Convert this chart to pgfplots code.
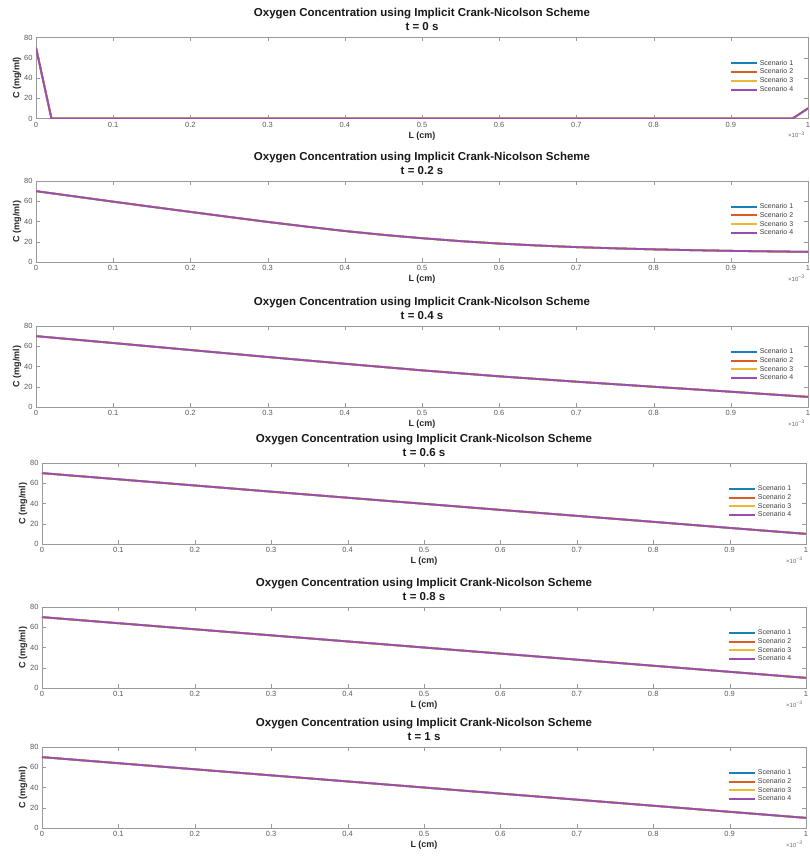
\documentclass[border=0pt]{standalone}
\usepackage{fontspec}
\setmainfont{Liberation Sans}
\usepackage{pgfplots}
\usepackage{pgfplotstable}
\pgfplotsset{compat=1.18}

% line colours of the four scenarios
\definecolor{scA}{rgb}{0.10,0.50,0.72}
\definecolor{scB}{rgb}{0.85,0.37,0.15}
\definecolor{scC}{rgb}{0.93,0.72,0.20}
\definecolor{scD}{rgb}{0.60,0.30,0.70}

% concentration profiles C(x) in mg/ml, x in cm
\pgfplotstableread{
x c
0 70
2e-5 0
9.8e-4 0
1e-3 10
}\tzero
\pgfplotstableread{
x c
0 70
0.5e-4 64.8
1.0e-4 59.6
1.5e-4 54.5
2.0e-4 49.5
2.5e-4 44.5
3.0e-4 39.6
3.5e-4 35.0
4.0e-4 30.6
4.5e-4 26.8
5.0e-4 23.5
5.5e-4 20.6
6.0e-4 18.2
6.5e-4 16.3
7.0e-4 14.7
7.5e-4 13.5
8.0e-4 12.5
8.5e-4 11.7
9.0e-4 11.0
9.5e-4 10.5
1.0e-3 10.0
}\ttwo
\pgfplotstableread{
x c
0 70
1e-4 63.2
2e-4 56.3
3e-4 49.4
4e-4 42.7
5e-4 36.2
6e-4 30.3
7e-4 25.0
8e-4 20.0
9e-4 15.1
1e-3 10.0
}\tfour
\pgfplotstableread{
x c
0 70
1e-4 63.9
2e-4 57.8
3e-4 51.7
4e-4 45.7
5e-4 39.7
6e-4 33.7
7e-4 27.8
8e-4 21.9
9e-4 15.9
1e-3 10.0
}\tsix
\pgfplotstableread{
x c
0 70
1e-4 64.0
2e-4 58.0
3e-4 52.0
4e-4 46.0
5e-4 40.0
6e-4 34.0
7e-4 28.0
8e-4 22.0
9e-4 16.0
1e-3 10.0
}\teight
\pgfplotstableread{
x c
0 70
1e-4 64.0
2e-4 58.0
3e-4 52.0
4e-4 46.0
5e-4 40.0
6e-4 34.0
7e-4 28.0
8e-4 22.0
9e-4 16.0
1e-3 10.0
}\tten

\pgfplotsset{
  cnplot/.style={
    scale only axis, anchor=north west,
    height=81pt,
    xmin=0, xmax=0.001, ymin=0, ymax=80,
    xtick={0,1e-4,2e-4,3e-4,4e-4,5e-4,6e-4,7e-4,8e-4,9e-4,1e-3},
    ytick={0,20,40,60,80},
    scaled x ticks=base 10:3,
    xtick scale label code/.code={×10\textsuperscript{−3}},
    every x tick scale label/.style={at={(rel axis cs:1,0)}, anchor=north west,
      xshift=-20pt, yshift=-13pt, inner sep=0pt, font=\fontsize{6}{6}\selectfont, text=black!60},
    /pgf/number format/assume math mode=true,
    xticklabel style={/pgf/number format/fixed, /pgf/number format/precision=1},
    tick align=inside, major tick length=4pt,
    axis line style={black!40}, tick style={black!40},
    tick label style={text=black!65, font=\fontsize{7.5}{8}\selectfont},
    xlabel={L (cm)}, ylabel={C (mg/ml)},
    label style={font=\bfseries\fontsize{9}{10}\selectfont, text=black!85},
    xlabel style={yshift=2.5pt},
    ylabel style={yshift=-4pt},
    title style={font=\bfseries\fontsize{11.5}{14}\selectfont, align=center,
      text=black!90, yshift=-3pt},
    legend cell align=left,
    legend style={at={(0.985,0.52)}, anchor=east, draw=none, fill=white,
      font=\fontsize{7}{7}\selectfont, row sep=-1.8pt, inner sep=1pt, text=black!75},
    legend image code/.code={\draw[#1, line width=2pt] (0pt,0pt) -- (26pt,0pt);},
    every axis plot/.append style={line width=1.8pt},
  },
}

\newcommand{\scenarios}[1]{%
  \addplot[scA] table[x=x,y=c] {#1};
  \addplot[scB] table[x=x,y=c] {#1};
  \addplot[scC] table[x=x,y=c] {#1};
  \addplot[scD] table[x=x,y=c] {#1};
  \legend{Scenario 1,Scenario 2,Scenario 3,Scenario 4}
}

\begin{document}
\begin{tikzpicture}
\useasboundingbox (0pt,0pt) rectangle (810pt,-859pt);

\begin{axis}[cnplot, at={(36pt,-37.5pt)}, width=772pt,
  title={Oxygen Concentration using Implicit Crank-Nicolson Scheme\\t = 0 s}]
\scenarios{\tzero}
\end{axis}

\begin{axis}[cnplot, at={(36pt,-181pt)}, width=772pt,
  title={Oxygen Concentration using Implicit Crank-Nicolson Scheme\\t = 0.2 s}]
\scenarios{\ttwo}
\end{axis}

\begin{axis}[cnplot, at={(36pt,-326pt)}, width=772pt,
  title={Oxygen Concentration using Implicit Crank-Nicolson Scheme\\t = 0.4 s}]
\scenarios{\tfour}
\end{axis}

\begin{axis}[cnplot, at={(42pt,-463pt)}, width=764pt,
  title={Oxygen Concentration using Implicit Crank-Nicolson Scheme\\t = 0.6 s}]
\scenarios{\tsix}
\end{axis}

\begin{axis}[cnplot, at={(42pt,-607pt)}, width=764pt,
  title={Oxygen Concentration using Implicit Crank-Nicolson Scheme\\t = 0.8 s}]
\scenarios{\teight}
\end{axis}

\begin{axis}[cnplot, at={(42pt,-747pt)}, width=764pt,
  title={Oxygen Concentration using Implicit Crank-Nicolson Scheme\\t = 1 s}]
\scenarios{\tten}
\end{axis}
\end{tikzpicture}
\end{document}
